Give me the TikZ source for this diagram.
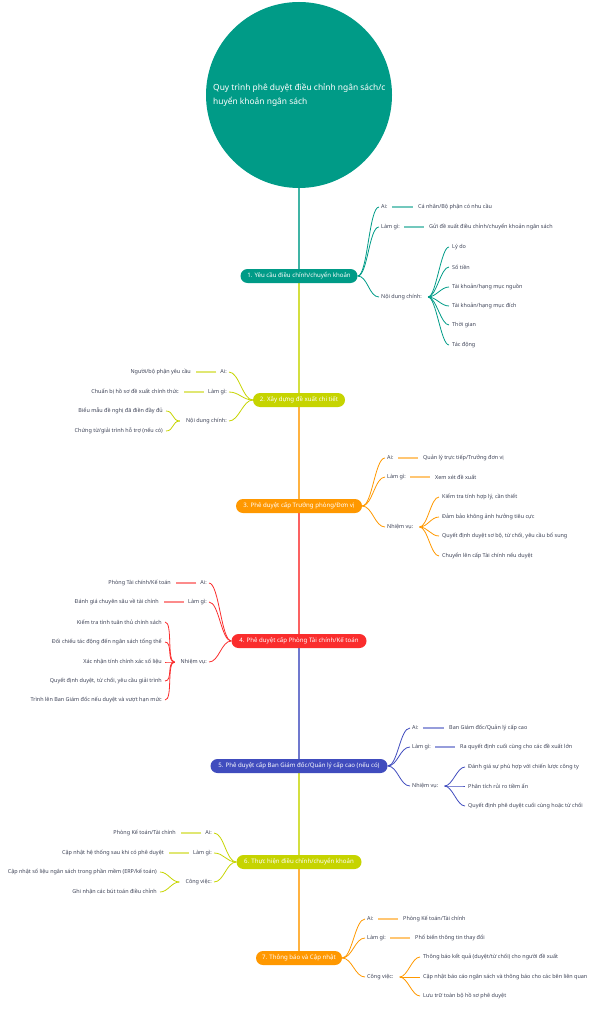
\documentclass[tikz,border=0pt]{standalone}
\usepackage{fontspec}
\setmainfont{Noto Sans}
\usetikzlibrary{backgrounds}
\definecolor{cteal}{RGB}{0,155,135}
\definecolor{clime}{RGB}{198,212,0}
\definecolor{corange}{RGB}{255,152,0}
\definecolor{cred}{RGB}{250,45,45}
\definecolor{cblue}{RGB}{64,76,190}
\definecolor{ctext}{RGB}{60,65,85}
\tikzset{
  mainnode/.style={fill=#1, text=white, rounded corners=7pt, minimum height=14pt, inner xsep=4pt, inner ysep=0pt, font=\fontsize{6.1}{7}\selectfont\bfseries},
  lbl/.style={text=ctext, inner xsep=2pt, inner ysep=1pt, font=\fontsize{5.45}{6}\selectfont},
  spine/.style={draw=#1!75, line width=1.2pt},
  sub/.style={draw=#1, line width=0.8pt},
  leafline/.style={draw=#1!55, line width=1.8pt},
}
\begin{document}
\begin{tikzpicture}[x=1pt,y=-1pt]
\useasboundingbox (0,0) rectangle (595,1024);
% root
\node[circle, fill=cteal, minimum size=186pt, inner sep=0pt] (root) at (299,95) {};
\node[text=white, anchor=west, align=left, inner sep=0pt, font=\fontsize{8.4}{14}\selectfont\bfseries] (title) at (213,95) {Quy trình phê duyệt điều chỉnh ngân sách/c\\huyển khoản ngân sách};
% main nodes
\node[mainnode=cteal, minimum width=117pt] (n1) at (299,276) {1. Yêu cầu điều chỉnh/chuyển khoản};
\node[mainnode=clime, minimum width=92pt] (n2) at (299,400) {2. Xây dựng đề xuất chi tiết};
\node[mainnode=corange, minimum width=126pt] (n3) at (299,506) {3. Phê duyệt cấp Trưởng phòng/Đơn vị};
\node[mainnode=cred, minimum width=135pt] (n4) at (299,641) {4. Phê duyệt cấp Phòng Tài chính/Kế toán};
\node[mainnode=cblue, minimum width=177pt] (n5) at (299,766) {5. Phê duyệt cấp Ban Giám đốc/Quản lý cấp cao (nếu có)};
\node[mainnode=clime, minimum width=125pt] (n6) at (299,862) {6. Thực hiện điều chỉnh/chuyển khoản};
\node[mainnode=corange, minimum width=86pt] (n7) at (299,958) {7. Thông báo và Cập nhật};

% ---------- Branch 1 (right)
\node[lbl, anchor=west] (a1) at (379,207) {Ai:};
\node[lbl, anchor=west] (a1c) at (416,207) {Cá nhân/Bộ phận có nhu cầu};
\node[lbl, anchor=west] (b1) at (379,227) {Làm gì:};
\node[lbl, anchor=west] (b1c) at (427,227) {Gửi đề xuất điều chỉnh/chuyển khoản ngân sách};
\node[lbl, anchor=west] (c1) at (379,297) {Nội dung chính:};
\node[lbl, anchor=west] (c1a) at (450,247) {Lý do};
\node[lbl, anchor=west] (c1b) at (450,267) {Số tiền};
\node[lbl, anchor=west] (c1c) at (450,287) {Tài khoản/hạng mục nguồn};
\node[lbl, anchor=west] (c1d) at (450,306) {Tài khoản/hạng mục đích};
\node[lbl, anchor=west] (c1e) at (450,325) {Thời gian};
\node[lbl, anchor=west] (c1f) at (450,345) {Tác động};
\coordinate (f1) at ([xshift=4pt]c1.east);

% ---------- Branch 2 (left)
\node[lbl, anchor=east] (a2) at (229,372) {Ai:};
\node[lbl, anchor=east] (a2c) at (193,372) {Người/bộ phận yêu cầu};
\node[lbl, anchor=east] (b2) at (229,392) {Làm gì:};
\node[lbl, anchor=east] (b2c) at (181,392) {Chuẩn bị hồ sơ đề xuất chính thức};
\node[lbl, anchor=east] (c2) at (229,421) {Nội dung chính:};
\node[lbl, anchor=east] (c2a) at (165,411) {Biểu mẫu đề nghị đã điền đầy đủ};
\node[lbl, anchor=east] (c2b) at (165,431) {Chứng từ/giải trình hỗ trợ (nếu có)};
\coordinate (f2) at ([xshift=-4pt]c2.west);

% ---------- Branch 3 (right)
\node[lbl, anchor=west] (a3) at (385,458) {Ai:};
\node[lbl, anchor=west] (a3c) at (421,458) {Quản lý trực tiếp/Trưởng đơn vị};
\node[lbl, anchor=west] (b3) at (385,477) {Làm gì:};
\node[lbl, anchor=west] (b3c) at (433,477) {Xem xét đề xuất};
\node[lbl, anchor=west] (c3) at (385,527) {Nhiệm vụ:};
\node[lbl, anchor=west] (c3a) at (440,497) {Kiểm tra tính hợp lý, cần thiết};
\node[lbl, anchor=west] (c3b) at (440,517) {Đảm bảo không ảnh hưởng tiêu cực};
\node[lbl, anchor=west] (c3c) at (440,536) {Quyết định duyệt sơ bộ, từ chối, yêu cầu bổ sung};
\node[lbl, anchor=west] (c3d) at (440,556) {Chuyển lên cấp Tài chính nếu duyệt};
\coordinate (f3) at ([xshift=4pt]c3.east);

% ---------- Branch 4 (left)
\node[lbl, anchor=east] (a4) at (209,583) {Ai:};
\node[lbl, anchor=east] (a4c) at (173,583) {Phòng Tài chính/Kế toán};
\node[lbl, anchor=east] (b4) at (209,602) {Làm gì:};
\node[lbl, anchor=east] (b4c) at (161,602) {Đánh giá chuyên sâu về tài chính};
\node[lbl, anchor=east] (c4) at (209,662) {Nhiệm vụ:};
\node[lbl, anchor=east] (c4a) at (164,622) {Kiểm tra tính tuân thủ chính sách};
\node[lbl, anchor=east] (c4b) at (164,642) {Đối chiếu tác động đến ngân sách tổng thể};
\node[lbl, anchor=east] (c4c) at (164,662) {Xác nhận tính chính xác số liệu};
\node[lbl, anchor=east] (c4d) at (164,681) {Quyết định duyệt, từ chối, yêu cầu giải trình};
\node[lbl, anchor=east] (c4e) at (164,700) {Trình lên Ban Giám đốc nếu duyệt và vượt hạn mức};
\coordinate (f4) at ([xshift=-4pt]c4.west);

% ---------- Branch 5 (right)
\node[lbl, anchor=west] (a5) at (410,728) {Ai:};
\node[lbl, anchor=west] (a5c) at (447,728) {Ban Giám đốc/Quản lý cấp cao};
\node[lbl, anchor=west] (b5) at (410,747) {Làm gì:};
\node[lbl, anchor=west] (b5c) at (458,747) {Ra quyết định cuối cùng cho các đề xuất lớn};
\node[lbl, anchor=west] (c5) at (410,786) {Nhiệm vụ:};
\node[lbl, anchor=west] (c5a) at (466,767) {Đánh giá sự phù hợp với chiến lược công ty};
\node[lbl, anchor=west] (c5b) at (466,786) {Phân tích rủi ro tiềm ẩn};
\node[lbl, anchor=west] (c5c) at (466,806) {Quyết định phê duyệt cuối cùng hoặc từ chối};
\coordinate (f5) at ([xshift=4pt]c5.east);

% ---------- Branch 6 (left)
\node[lbl, anchor=east] (a6) at (214,833) {Ai:};
\node[lbl, anchor=east] (a6c) at (178,833) {Phòng Kế toán/Tài chính};
\node[lbl, anchor=east] (b6) at (214,853) {Làm gì:};
\node[lbl, anchor=east] (b6c) at (166,853) {Cập nhật hệ thống sau khi có phê duyệt};
\node[lbl, anchor=east] (c6) at (214,882) {Công việc:};
\node[lbl, anchor=east] (c6a) at (159,872) {Cập nhật số liệu ngân sách trong phần mềm (ERP/kế toán)};
\node[lbl, anchor=east] (c6b) at (159,892) {Ghi nhận các bút toán điều chỉnh};
\coordinate (f6) at ([xshift=-4pt]c6.west);

% ---------- Branch 7 (right)
\node[lbl, anchor=west] (a7) at (365,919) {Ai:};
\node[lbl, anchor=west] (a7c) at (401,919) {Phòng Kế toán/Tài chính};
\node[lbl, anchor=west] (b7) at (365,938) {Làm gì:};
\node[lbl, anchor=west] (b7c) at (413,938) {Phổ biến thông tin thay đổi};
\node[lbl, anchor=west] (c7) at (365,977) {Công việc:};
\node[lbl, anchor=west] (c7a) at (421,957) {Thông báo kết quả (duyệt/từ chối) cho người đề xuất};
\node[lbl, anchor=west] (c7b) at (421,977) {Cập nhật báo cáo ngân sách và thông báo cho các bên liên quan};
\node[lbl, anchor=west] (c7c) at (421,996) {Lưu trữ toàn bộ hồ sơ phê duyệt};
\coordinate (f7) at ([xshift=4pt]c7.east);

\begin{pgfonlayer}{background}
% spine
\draw[spine=cteal] (root.south) -- (n1.center);
\draw[spine=clime] (n1.center) -- (n2.center);
\draw[spine=corange] (n2.center) -- (n3.center);
\draw[spine=cred] (n3.center) -- (n4.center);
\draw[spine=cblue] (n4.center) -- (n5.center);
\draw[spine=clime] (n5.center) -- (n6.center);
\draw[spine=corange] (n6.center) -- (n7.center);
\end{pgfonlayer}

% ---------- connectors: right branches
\foreach \n/\c in {1/cteal,3/corange,5/cblue,7/corange}{
  \foreach \l in {a,b,c}{
    \draw[sub=\c] (n\n.east) .. controls +(10,0) and +(-10,0) .. (\l\n.west);
  }
  \draw[leafline=\c] ([xshift=2pt]a\n.east) -- ([xshift=-3pt]a\n c.west);
  \draw[leafline=\c] ([xshift=2pt]b\n.east) -- ([xshift=-3pt]b\n c.west);
}
\foreach \l in {a,b,c,d,e,f}{\draw[sub=cteal] (f1) .. controls +(8,0) and +(-8,0) .. ([xshift=-1pt]c1\l.west);}
\foreach \l in {a,b,c,d}{\draw[sub=corange] (f3) .. controls +(8,0) and +(-8,0) .. ([xshift=-1pt]c3\l.west);}
\foreach \l in {a,b,c}{\draw[sub=cblue] (f5) .. controls +(8,0) and +(-8,0) .. ([xshift=-1pt]c5\l.west);}
\foreach \l in {a,b,c}{\draw[sub=corange] (f7) .. controls +(8,0) and +(-8,0) .. ([xshift=-1pt]c7\l.west);}

% ---------- connectors: left branches
\foreach \n/\c in {2/clime,4/cred,6/clime}{
  \foreach \l in {a,b,c}{
    \draw[sub=\c] (n\n.west) .. controls +(-10,0) and +(10,0) .. (\l\n.east);
  }
  \draw[leafline=\c] ([xshift=-2pt]a\n.west) -- ([xshift=3pt]a\n c.east);
  \draw[leafline=\c] ([xshift=-2pt]b\n.west) -- ([xshift=3pt]b\n c.east);
}
\foreach \l in {a,b}{\draw[sub=clime] (f2) .. controls +(-8,0) and +(8,0) .. ([xshift=1pt]c2\l.east);}
\foreach \l in {a,b,c,d,e}{\draw[sub=cred] (f4) .. controls +(-8,0) and +(8,0) .. ([xshift=1pt]c4\l.east);}
\foreach \l in {a,b}{\draw[sub=clime] (f6) .. controls +(-8,0) and +(8,0) .. ([xshift=1pt]c6\l.east);}
\end{tikzpicture}
\end{document}
